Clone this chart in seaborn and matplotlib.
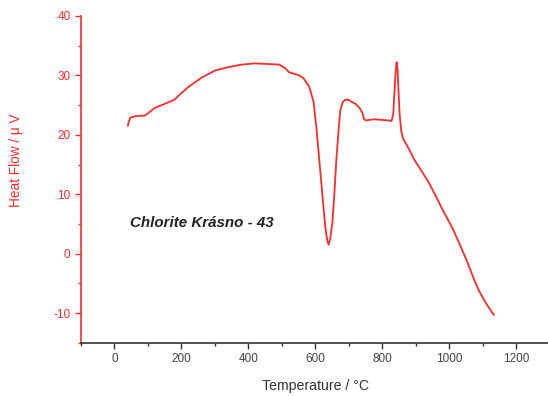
import numpy as np
import pandas as pd
import seaborn as sns
import matplotlib
matplotlib.use("Agg")
import matplotlib.pyplot as plt
from matplotlib.ticker import MultipleLocator

# DTA trace of the chlorite sample
temperature = [40, 43, 48, 60, 75, 90, 100, 120, 150, 179, 190, 220, 260, 300, 343,
               380, 418, 460, 493, 510, 522, 540, 552, 565, 582, 595, 603, 610, 618,
               625, 630, 636, 640, 645, 651, 657, 663, 670, 675, 682, 690, 700, 707,
               720, 731, 740, 746, 752, 760, 776, 800, 821, 828, 833, 837, 840, 843,
               846, 849, 852, 857, 862, 869, 880, 896, 920, 940, 960, 985, 1010,
               1030, 1050, 1075, 1090, 1110, 1125, 1134]
heat_flow = [21.5, 22.3, 22.9, 23.1, 23.2, 23.2, 23.6, 24.5, 25.2, 25.9, 26.5, 28.0,
             29.6, 30.8, 31.4, 31.8, 32.0, 31.9, 31.8, 31.2, 30.5, 30.2, 30.0, 29.5,
             28.1, 25.5, 21.4, 17.0, 12.0, 7.5, 4.5, 2.2, 1.5, 2.6, 5.2, 10.0, 15.8,
             21.0, 24.2, 25.5, 25.9, 25.9, 25.6, 25.2, 24.6, 23.8, 22.6, 22.4, 22.5,
             22.6, 22.5, 22.4, 22.3, 23.5, 27.5, 30.5, 32.2, 31.0, 27.0, 23.5, 20.6,
             19.4, 18.7, 17.6, 15.8, 13.7, 11.9, 9.7, 6.9, 4.3, 1.8, -0.8, -4.4,
             -6.3, -8.3, -9.6, -10.3]

x_ticks = [0, 200, 400, 600, 800, 1000, 1200]
y_ticks = [-10, 0, 10, 20, 30, 40]
sample_label = "Chlorite Krásno - 43"

df = pd.DataFrame({"Temperature": temperature, "HeatFlow": heat_flow})

sns.set_style("white")
plt.rcParams["font.family"] = ["Liberation Sans", "DejaVu Sans"]
plt.rcParams["axes.unicode_minus"] = False

red = "#ff2a2a"
fig = plt.figure(figsize=(5.48, 3.96), dpi=100)
ax = fig.add_axes([0.1478, 0.134, 0.855, 0.826])

sns.lineplot(data=df, x="Temperature", y="HeatFlow", ax=ax, color=red,
             linewidth=1.3, estimator=None, sort=False)

ax.set_xlim(-100, 1300)
ax.set_ylim(-15, 40)
ax.set_xticks(x_ticks)
ax.set_yticks(y_ticks)
ax.xaxis.set_minor_locator(MultipleLocator(100))
ax.yaxis.set_minor_locator(MultipleLocator(5))

for side in ("top", "right"):
    ax.spines[side].set_visible(False)
ax.spines["left"].set_color(red)
ax.spines["left"].set_linewidth(1.2)
ax.spines["bottom"].set_color("#333333")
ax.spines["bottom"].set_linewidth(1.2)

ax.tick_params(axis="x", which="major", direction="out", length=4, width=1,
               color="#333333", labelcolor="#444444", labelsize=8.5, bottom=True)
ax.tick_params(axis="x", which="minor", direction="out", length=2.5, width=1,
               color="#333333", bottom=True)
ax.tick_params(axis="y", which="major", direction="out", length=4, width=1,
               color=red, labelcolor=red, labelsize=8.5, left=True)
ax.tick_params(axis="y", which="minor", direction="out", length=2.5, width=1,
               color=red, left=True)

ax.set_xlabel("Temperature / °C", fontsize=10.2, color="#333333", labelpad=10)
ax.set_ylabel("Heat Flow / μ V", fontsize=9.8, color=red)
ax.yaxis.set_label_coords(-0.124, 0.557)

ax.text(45, 5.1, sample_label, fontsize=10.9, fontweight="bold", fontstyle="italic",
        color="#222222", ha="left", va="center")

fig.savefig("out.png", dpi=100)
